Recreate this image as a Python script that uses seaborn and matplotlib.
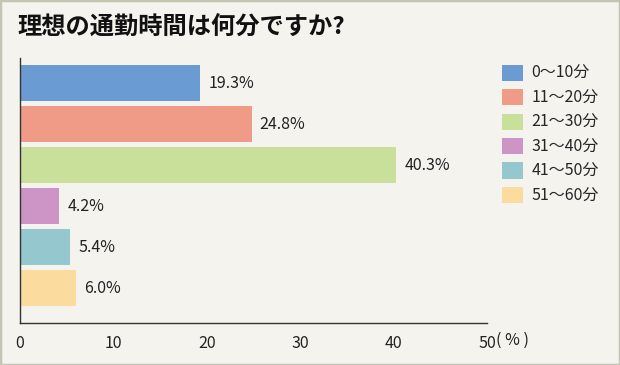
import matplotlib
matplotlib.use('Agg')
import matplotlib.pyplot as plt
from matplotlib.patches import Rectangle
import seaborn as sns
import pandas as pd

# data
categories = ['0〜10分', '11〜20分', '21〜30分', '31〜40分', '41〜50分', '51〜60分']
shares = [19.3, 24.8, 40.3, 4.2, 5.4, 6.0]
bar_colors = ['#6a9bd3', '#f09b87', '#c9e09a', '#cc95c6', '#95c7cf', '#fcdc9e']
xticks = [0, 10, 20, 30, 40, 50]

title = '理想の通勤時間は何分ですか?'

sns.set_style('white')
plt.rcParams['font.family'] = ['Noto Sans CJK JP', 'DejaVu Sans']

df = pd.DataFrame({'category': categories, 'share': shares})

bg = '#f4f3ee'
fig = plt.figure(figsize=(6.2, 3.65), dpi=100, facecolor=bg)
ax = fig.add_axes([20 / 620, 42 / 365, 467 / 620, 265 / 365])
ax.set_facecolor(bg)

sns.barplot(data=df, x='share', y='category', hue='category',
            palette=bar_colors, width=0.88, saturation=1, linewidth=0,
            orient='h', legend=True, ax=ax)

ax.set_xlim(0, 50)
ax.set_ylim(5.85, -0.61)
ax.set_xticks(xticks)
ax.set_xticklabels([str(t) for t in xticks], fontsize=11.5, color='#222222')
ax.tick_params(axis='x', direction='in', length=6, width=1, color='#444444', pad=9)
ax.set_yticks([])
ax.set_xlabel('')
ax.set_ylabel('')
for side in ['top', 'right']:
    ax.spines[side].set_visible(False)
for side in ['left', 'bottom']:
    ax.spines[side].set_color('#333333')
    ax.spines[side].set_linewidth(1)

# value labels
for i, v in enumerate(shares):
    ax.text(v + 0.85, i, f'{v:.1f}%', va='center', ha='left',
            fontsize=11.5, color='#222222')

ax.text(1.020, -0.066, '( % )', transform=ax.transAxes, fontsize=11.5,
        color='#222222', va='center', ha='left')

sns.move_legend(ax, loc='upper left', bbox_to_anchor=(1.032, 0.975),
                frameon=False, title=None, fontsize=11.5,
                handlelength=1.3, handleheight=1.2, handletextpad=0.56,
                labelspacing=0.43, borderaxespad=0, borderpad=0)

fig.text(17 / 620, 1 - 28 / 365, title, fontsize=17.5, fontweight='bold',
         color='#111111', va='center', ha='left')

# outer frame
fig.patches.append(Rectangle((0, 0), 1, 1, transform=fig.transFigure,
                             fill=False, edgecolor='#c4c4b2', linewidth=2.5))

fig.savefig('out.png', dpi=100, facecolor=bg)
